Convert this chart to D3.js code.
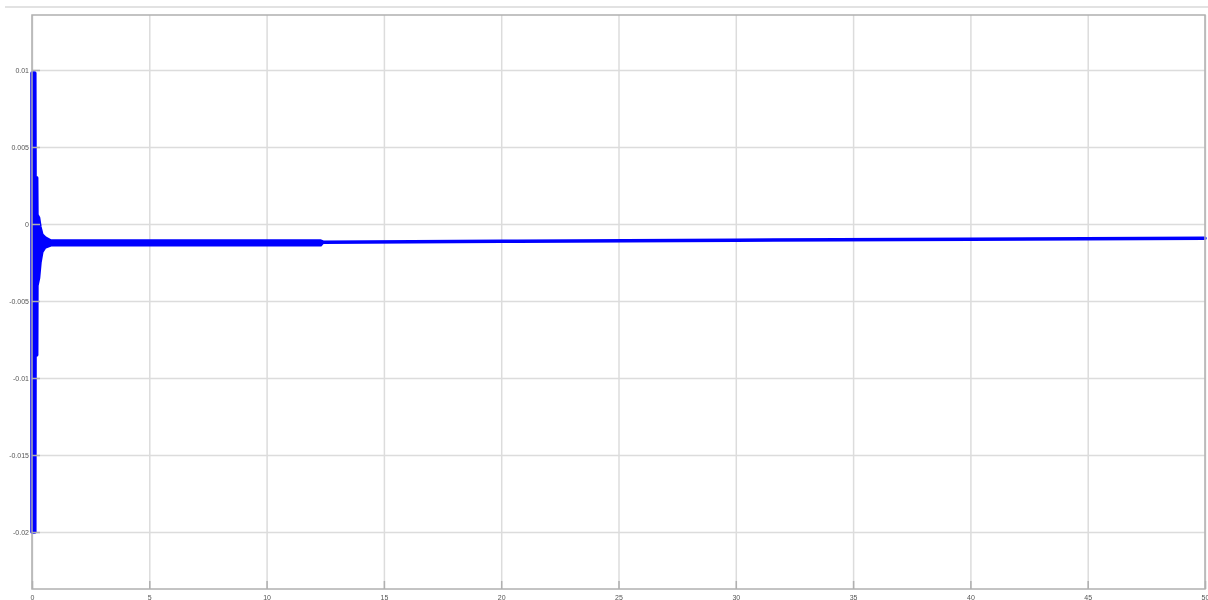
<!DOCTYPE html>
<html lang="en">
  <head>
    <meta charset="utf-8">
    <title>Response</title>
    <style>
      body { margin: 0; background: #fff; }
      .tick text { font-family: "Liberation Sans", Arial, sans-serif; font-size: 7px; fill: #555; }
    </style>
  </head>
  <body>
    <svg class="chart"></svg>
    <script src="https://d3js.org/d3.v7.min.js"></script>
    <script>
    // tick labels
    const xTicks = [0, 5, 10, 15, 20, 25, 30, 35, 40, 45, 50];
    const yTicks = [0.01, 0.005, 0, -0.005, -0.01, -0.015, -0.02];
    const yLabels = ["0.01", "0.005", "0", "-0.005", "-0.01", "-0.015", "-0.02"];

    // signal envelope (time, top and bottom of the oscillation)
    const time  = [0, 0.12, 0.13, 0.20, 0.21, 0.28, 0.34, 0.42, 0.55, 0.8, 3, 6, 9, 12.3, 12.4, 20, 30, 40, 50];
    const upper = [0.0098, 0.0098, 0.0030, 0.0030, 0.0006, 0.0004, -0.0002, -0.0007, -0.0009, -0.0011, -0.0011, -0.0011, -0.0011, -0.0011, -0.00118, -0.00112, -0.00105, -0.00099, -0.00093];
    const lower = [-0.0200, -0.0200, -0.0085, -0.0085, -0.0040, -0.0035, -0.0025, -0.0018, -0.0015, -0.00135, -0.00135, -0.00135, -0.00135, -0.00135, -0.00118, -0.00112, -0.00105, -0.00099, -0.00093];

    const margins = {left: 32, right: 3, top: 15, bottom: 11};
    const W = 1208, H = 600;
    const width = W - margins.left - margins.right;
    const height = H - margins.top - margins.bottom;

    const svg = d3.select(".chart").attr("width", W).attr("height", H);
    const root = svg.append("g").style("filter", "blur(0.5px)");

    // faint line above the axes
    root.append("line")
      .attr("x1", 5).attr("x2", W).attr("y1", 7).attr("y2", 7)
      .attr("stroke", "#e2e2e2").attr("stroke-width", 2);

    const xScale = d3.scaleLinear().domain([0, 50]).range([margins.left, margins.left + width]);
    const yScale = d3.scaleLinear().domain([-0.0237, 0.01357]).range([margins.top + height, margins.top]);

    // grid
    root.append("g")
      .attr("transform", "translate(0," + (margins.top + height) + ")")
      .call(d3.axisBottom(xScale).tickValues(xTicks).tickSize(-height).tickFormat(""))
      .call(g => g.select(".domain").remove())
      .selectAll("line").attr("stroke", "#dcdcdc").attr("stroke-width", 1.5);
    root.append("g")
      .attr("transform", "translate(" + margins.left + ",0)")
      .call(d3.axisLeft(yScale).tickValues(yTicks).tickSize(-width).tickFormat(""))
      .call(g => g.select(".domain").remove())
      .selectAll("line").attr("stroke", "#dcdcdc").attr("stroke-width", 1.5);

    // signal
    const pts = time.map((t, i) => ({t: t, hi: upper[i], lo: lower[i]}));
    const area = d3.area()
      .x(d => xScale(d.t))
      .y0(d => yScale(d.lo))
      .y1(d => yScale(d.hi));
    root.append("path")
      .datum(pts)
      .attr("d", area)
      .attr("fill", "#0000ff")
      .attr("stroke", "#0000ff")
      .attr("stroke-width", 3.5)
      .attr("stroke-linejoin", "round");

    // frame
    root.append("rect")
      .attr("x", margins.left).attr("y", margins.top)
      .attr("width", width).attr("height", height)
      .attr("fill", "none").attr("stroke", "#b0b0b0").attr("stroke-width", 1.5);

    // axes with inward ticks
    const xAxis = d3.axisBottom(xScale).tickValues(xTicks).tickSize(-8).tickPadding(6).tickFormat(d3.format("d"));
    const gx = root.append("g")
      .attr("transform", "translate(0," + (margins.top + height) + ")")
      .call(xAxis);
    gx.select(".domain").remove();
    gx.selectAll("line").attr("stroke", "#b0b0b0").attr("stroke-width", 1.5);

    const yAxis = d3.axisLeft(yScale).tickValues(yTicks).tickSize(-8).tickPadding(3)
      .tickFormat((d, i) => yLabels[i]);
    const gy = root.append("g")
      .attr("transform", "translate(" + margins.left + ",0)")
      .call(yAxis);
    gy.select(".domain").remove();
    gy.selectAll("line").attr("stroke", "#b0b0b0").attr("stroke-width", 1.5);
    </script>
  </body>
</html>
